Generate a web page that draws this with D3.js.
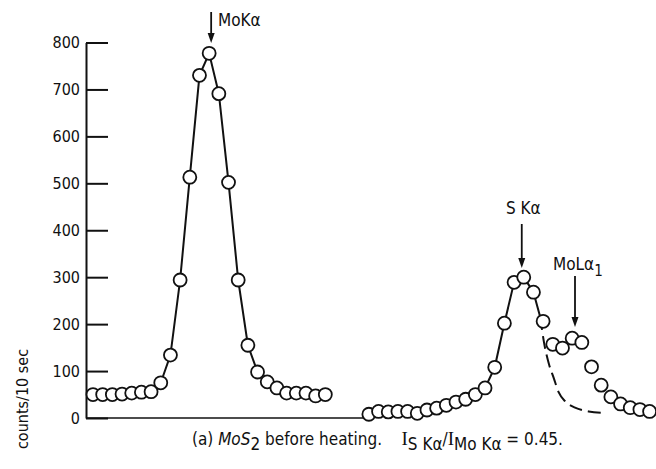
<!DOCTYPE html>
<html>
<head>
<meta charset="utf-8">
<script src="https://cdn.jsdelivr.net/npm/d3@7"></script>
<style>
  body { margin: 0; background: #fff; }
  svg text { font-family: "DejaVu Sans Condensed", "DejaVu Sans", sans-serif; fill: #111; white-space: pre; }
  .axis path, .axis line { stroke: #111; stroke-width: 2; }
  .axis text { font-size: 16px; }
</style>
</head>
<body>
<div id="chart"></div>
<script>
// channel positions (arbitrary units along the scan) and counts per 10 sec
const leftChan = [0, 1, 2, 3, 4, 5, 6, 7, 8, 9, 10, 11, 12, 13, 14, 15, 16, 17, 18, 19, 20, 21, 22, 23, 24];
const leftCounts = [50, 50, 50, 51, 53, 55, 56, 75, 134, 294, 513, 730, 777, 691, 502, 294, 155, 98, 77, 64, 53, 53, 53, 47, 50];

const rightChan = [28.5, 29.5, 30.5, 31.5, 32.5, 33.5, 34.5, 35.5, 36.5, 37.5, 38.5, 39.5, 40.5, 41.5, 42.5,
  43.5, 44.5, 45.5, 46.5, 47.5, 48.5, 49.5, 50.5, 51.5, 52.5, 53.5, 54.5, 55.5, 56.5, 57.5];
const rightCounts = [8, 14, 13, 14, 14, 10, 17, 21, 27, 34, 40, 50, 64, 108, 202, 289, 300, 268, 206, 157,
  149, 170, 161, 109, 70, 45, 30, 22, 18, 14];

// dashed SKa tail estimate
const dashChan = [45.5, 46.2, 46.6, 47.1, 47.6, 48.1, 48.8, 49.8, 51.2, 52.7];
const dashCounts = [268, 215, 160, 115, 85, 55, 35, 22, 14, 11];

const yTicks = [0, 100, 200, 300, 400, 500, 600, 700, 800];

const width = 656, height = 469;
const axisX = 86;
const x = d3.scaleLinear().domain([0, 57.5]).range([93, 649.6]);
const y = d3.scaleLinear().domain([0, 800]).range([418, 42.5]);

const svg = d3.select("#chart").append("svg")
  .attr("width", width)
  .attr("height", height);

// y axis with ticks pointing inward
svg.append("g")
  .attr("class", "axis")
  .attr("transform", "translate(" + axisX + ",0)")
  .call(d3.axisLeft(y).tickValues(yTicks).tickSize(-22).tickSizeOuter(0).tickPadding(6).tickFormat(d3.format("d")))
  .call(g => g.selectAll("text").attr("fill", "#111"));

// baseline under the left group
svg.append("line")
  .attr("x1", axisX).attr("x2", x(rightChan[0]))
  .attr("y1", y(0)).attr("y2", y(0))
  .attr("stroke", "#111").attr("stroke-width", 1.6);

const line = d3.line().x(d => x(d[0])).y(d => y(d[1]));
const pts = (xs, ys) => xs.map((v, i) => [v, ys[i]]);

const leftPts = pts(leftChan, leftCounts);
const rightPts = pts(rightChan, rightCounts);
const dashPts = pts(dashChan, dashCounts);

svg.append("path")
  .datum(leftPts.slice(6, 19))
  .attr("d", line)
  .attr("fill", "none").attr("stroke", "#111").attr("stroke-width", 2);

svg.append("path")
  .datum(rightPts.slice(11, 18).concat([dashPts[1]]))
  .attr("d", line)
  .attr("fill", "none").attr("stroke", "#111").attr("stroke-width", 2);

svg.append("path")
  .datum(dashPts.slice(1))
  .attr("d", d3.line().curve(d3.curveMonotoneX).x(d => x(d[0])).y(d => y(d[1])))
  .attr("fill", "none").attr("stroke", "#111").attr("stroke-width", 2)
  .attr("stroke-dasharray", "13,6");

svg.append("g").selectAll("circle")
  .data(leftPts.concat(rightPts))
  .enter()
  .append("circle")
  .attr("cx", d => x(d[0]))
  .attr("cy", d => y(d[1]))
  .attr("r", 6.5)
  .attr("fill", "#fff")
  .attr("stroke", "#111")
  .attr("stroke-width", 1.8);

// arrows
function arrow(x0, y0, y1) {
  svg.append("line")
    .attr("x1", x0).attr("x2", x0).attr("y1", y0).attr("y2", y1 - 8)
    .attr("stroke", "#111").attr("stroke-width", 1.8);
  svg.append("path")
    .attr("d", "M" + (x0 - 3.5) + "," + (y1 - 10) + "L" + (x0 + 3.5) + "," + (y1 - 10) + "L" + x0 + "," + y1 + "Z")
    .attr("fill", "#111");
}

arrow(x(12) + 2, 12, 43);
svg.append("text").attr("x", 218).attr("y", 26).attr("font-size", 17).text("MoKα");

arrow(x(44.5) - 2, 224, 268);
svg.append("text").attr("x", 506).attr("y", 214).attr("font-size", 17).text("S Kα");

arrow(575, 276, 327);
const mola = svg.append("text").attr("x", 553).attr("y", 270).attr("font-size", 17);
mola.append("tspan").text("MoLα");
mola.append("tspan").attr("dy", 6).attr("font-size", 15).text("1");

// y label
svg.append("text")
  .attr("transform", "translate(28,399) rotate(-90)")
  .attr("text-anchor", "middle")
  .attr("font-size", 16)
  .text("counts/10 sec");

// caption
const cap = svg.append("text").attr("x", 192).attr("y", 445).attr("font-size", 17);
cap.append("tspan").text("(a) ");
cap.append("tspan").attr("font-style", "italic").text("MoS");
cap.append("tspan").attr("dy", 5).text("2");
cap.append("tspan").attr("dy", -5).text(" before heating.    ");
cap.append("tspan").attr("font-family", "Liberation Serif").attr("font-size", 19).text("I");
cap.append("tspan").attr("dy", 5).text("S Kα");
cap.append("tspan").attr("dy", -5).text("/");
cap.append("tspan").attr("font-family", "Liberation Serif").attr("font-size", 19).text("I");
cap.append("tspan").attr("dy", 5).text("Mo Kα");
cap.append("tspan").attr("dy", -5).text(" = 0.45.");
</script>
</body>
</html>
